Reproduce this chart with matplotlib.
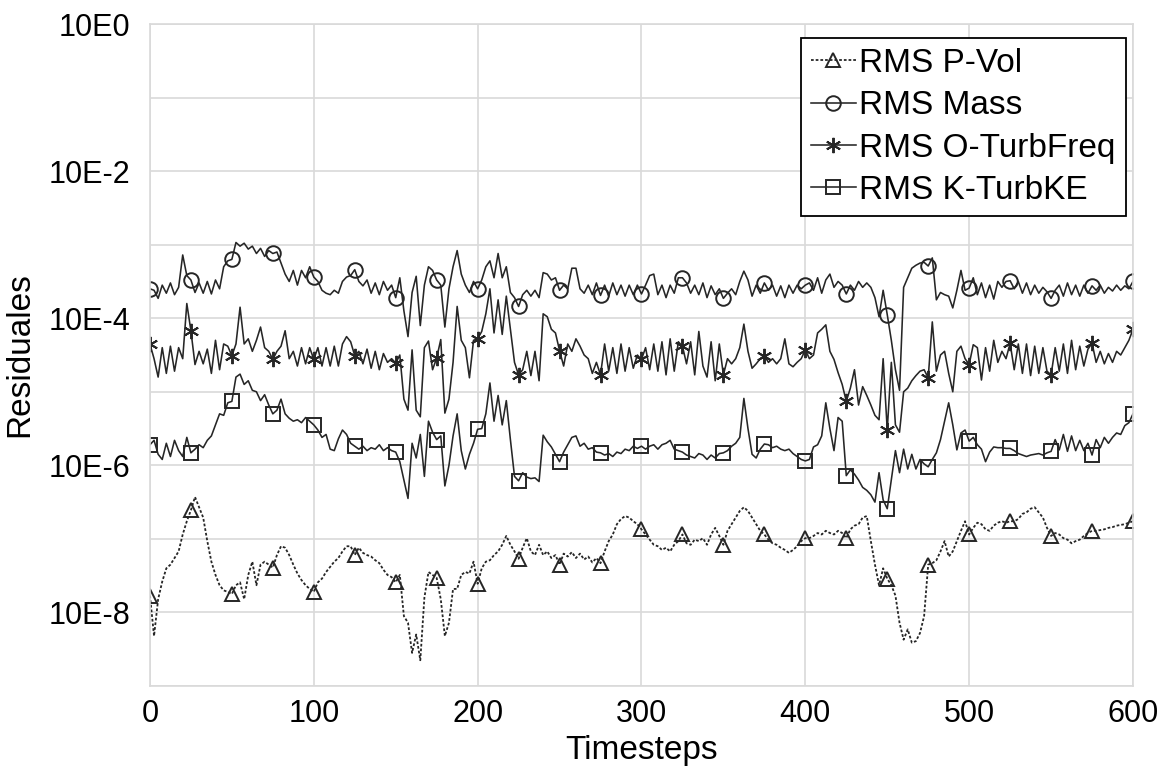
import numpy as np
import matplotlib
matplotlib.use("Agg")
import matplotlib.pyplot as plt

plt.rcParams['font.family'] = ['Liberation Sans', 'DejaVu Sans']

# timesteps sampled every 2.5 (markers every 25)
timesteps = np.arange(0, 600.001, 2.5)

# log10 of residuals, one row per 25 timesteps
log_mass = [
    -3.60, -3.62, -3.73, -3.55, -3.66, -3.52, -3.68, -3.58, -3.14, -3.42,
    -3.48, -3.65, -3.52, -3.66, -3.50, -3.67, -3.48, -3.60, -3.30, -3.22,
    -3.20, -2.97, -3.02, -2.98, -3.06, -3.02, -3.12, -3.05, -3.16, -3.08,
    -3.12, -3.10, -3.25, -3.40, -3.50, -3.35, -3.55, -3.35, -3.45, -3.30,
    -3.44, -3.50, -3.62, -3.66, -3.68, -3.62, -3.66, -3.50, -3.44, -3.42,
    -3.34, -3.50, -3.56, -3.48, -3.66, -3.52, -3.68, -3.50, -3.62, -3.55,
    -3.72, -3.45, -3.90, -4.25, -3.65, -3.43, -4.10, -3.55, -3.30, -3.35,
    -3.48, -3.55, -4.12, -3.60, -3.30, -3.08, -3.40, -3.55, -3.65, -3.50,
    -3.60, -3.48, -3.30, -3.22, -3.45, -3.12, -3.45, -3.30, -3.65, -3.72,
    -3.84, -3.68, -3.62, -3.70, -3.62, -3.72, -3.38, -3.40, -3.48, -3.45,
    -3.62, -3.55, -3.60, -3.32, -3.32, -3.60, -3.66, -3.55, -3.68, -3.52,
    -3.69, -3.55, -3.70, -3.52, -3.68, -3.55, -3.70, -3.55, -3.68, -3.55,
    -3.67, -3.55, -3.42, -3.40, -3.68, -3.55, -3.72, -3.55, -3.66, -3.45,
    -3.45, -3.52, -3.66, -3.55, -3.68, -3.52, -3.72, -3.56, -3.68, -3.60,
    -3.73, -3.66, -3.60, -3.68, -3.50, -3.36, -3.48, -3.70, -3.55, -3.66,
    -3.52, -3.62, -3.55, -3.70, -3.56, -3.72, -3.55, -3.66, -3.55, -3.60,
    -3.55, -3.52, -3.62, -3.45, -3.66, -3.48, -3.40, -3.58, -3.50, -3.55,
    -3.67, -3.55, -3.62, -3.50, -3.58, -3.52, -3.58, -3.72, -3.98, -3.62,
    -3.95, -4.30, -4.70, -4.98, -3.58, -3.45, -3.32, -3.28, -3.25, -3.24,
    -3.29, -3.18, -3.75, -3.65, -3.68, -3.70, -3.86, -3.62, -3.35, -3.62,
    -3.59, -3.45, -3.68, -3.52, -3.72, -3.55, -3.74, -3.50, -3.58, -3.50,
    -3.49, -3.60, -3.50, -3.66, -3.52, -3.68, -3.55, -3.66, -3.58, -3.64,
    -3.73, -3.62, -3.55, -3.70, -3.52, -3.68, -3.55, -3.70, -3.55, -3.66,
    -3.56, -3.62, -3.55, -3.66, -3.58, -3.63, -3.55, -3.62, -3.56, -3.60,
    -3.50,
]

log_oturb = [
    -4.35, -4.55, -4.80, -4.40, -4.75, -4.38, -4.72, -4.40, -4.55, -3.80,
    -4.17, -4.63, -4.45, -4.62, -4.42, -4.75, -4.30, -4.70, -4.35, -4.38,
    -4.51, -4.35, -3.85, -4.35, -4.28, -4.45, -4.30, -4.12, -4.40, -4.45,
    -4.56, -4.45, -4.38, -4.17, -4.55, -4.45, -4.65, -4.40, -4.62, -4.40,
    -4.56, -4.40, -4.65, -4.40, -4.65, -4.38, -4.65, -4.35, -4.25, -4.32,
    -4.51, -4.45, -4.62, -4.42, -4.68, -4.45, -4.70, -4.48, -4.60, -4.55,
    -4.61, -4.50, -5.10, -5.25, -4.43, -5.25, -5.34, -4.40, -4.31, -4.70,
    -4.54, -4.29, -5.29, -5.10, -4.60, -3.84, -4.30, -4.40, -4.81, -4.30,
    -4.28, -4.18, -3.94, -3.60, -4.20, -3.75, -4.22, -3.70, -4.15, -4.60,
    -4.77, -4.70, -4.45, -4.78, -4.45, -4.85, -3.94, -3.98, -4.15, -4.20,
    -4.44, -4.65, -4.35, -4.45, -4.28, -4.38, -4.50, -4.55, -4.75, -4.60,
    -4.77, -4.35, -4.72, -4.40, -4.75, -4.35, -4.72, -4.40, -4.68, -4.50,
    -4.56, -4.40, -4.70, -4.35, -4.72, -4.32, -4.77, -4.28, -4.72, -4.32,
    -4.38, -4.62, -4.32, -4.77, -4.18, -4.65, -4.80, -4.32, -4.85, -4.35,
    -4.77, -4.55, -4.62, -4.55, -4.40, -4.08, -4.45, -4.68, -4.62, -4.55,
    -4.51, -4.60, -4.55, -4.62, -4.55, -4.28, -4.62, -4.66, -4.60, -4.55,
    -4.43, -4.55, -4.50, -4.20, -4.15, -4.09, -4.45, -4.56, -4.74, -4.90,
    -5.13, -4.95, -4.70, -5.18, -4.93, -5.05, -5.18, -5.32, -5.38, -4.55,
    -5.52, -4.60, -5.45, -5.55, -5.00, -4.95, -4.85, -4.78, -4.72, -4.70,
    -4.81, -4.05, -4.72, -4.50, -4.45, -4.75, -5.00, -4.45, -4.38, -4.55,
    -4.63, -4.36, -4.40, -4.84, -4.40, -4.72, -4.30, -4.60, -4.45, -4.55,
    -4.34, -4.70, -4.35, -4.75, -4.35, -4.78, -4.38, -4.75, -4.40, -4.72,
    -4.77, -4.40, -4.72, -4.35, -4.75, -4.30, -4.70, -4.38, -4.65, -4.42,
    -4.34, -4.60, -4.45, -4.62, -4.48, -4.60, -4.45, -4.50, -4.40, -4.30,
    -4.15,
]

log_kturb = [
    -5.72, -5.66, -5.85, -5.92, -5.70, -5.88, -5.66, -5.80, -5.88, -5.62,
    -5.83, -5.78, -5.72, -5.76, -5.66, -5.60, -5.45, -5.30, -5.32, -5.15,
    -5.13, -4.80, -4.76, -4.90, -4.85, -4.98, -5.00, -5.12, -5.04, -5.18,
    -5.30, -5.25, -5.10, -5.30, -5.36, -5.40, -5.38, -5.42, -5.35, -5.40,
    -5.45, -5.52, -5.62, -5.58, -5.78, -5.80, -5.64, -5.52, -5.58, -5.70,
    -5.74, -5.78, -5.74, -5.80, -5.76, -5.78, -5.72, -5.80, -5.76, -5.80,
    -5.82, -5.95, -6.20, -6.45, -5.70, -5.90, -5.58, -6.15, -5.40, -5.55,
    -5.65, -5.60, -6.28, -6.00, -5.60, -5.30, -5.80, -6.05, -5.85, -5.70,
    -5.51, -5.50, -5.30, -4.88, -5.40, -5.05, -5.45, -5.12, -5.65, -6.15,
    -6.21, -6.10, -6.16, -6.18, -6.17, -6.22, -5.59, -5.68, -5.75, -5.85,
    -5.95, -5.82, -5.72, -5.62, -5.60, -5.74, -5.70, -5.78, -5.76, -5.82,
    -5.83, -5.86, -5.84, -5.88, -5.82, -5.84, -5.78, -5.80, -5.74, -5.77,
    -5.74, -5.78, -5.74, -5.72, -5.78, -5.72, -5.70, -5.66, -5.78, -5.80,
    -5.82, -5.86, -5.88, -5.90, -5.84, -5.86, -5.92, -5.86, -5.90, -5.84,
    -5.83, -5.80, -5.74, -5.70, -5.62, -5.09, -5.50, -5.85, -5.90, -5.78,
    -5.71, -5.72, -5.76, -5.74, -5.78, -5.80, -5.78, -5.84, -5.88, -5.92,
    -5.94, -5.92, -5.75, -5.72, -5.60, -5.15, -5.50, -5.80, -5.35, -5.40,
    -6.14, -6.06, -6.12, -6.20, -6.30, -6.34, -6.40, -6.50, -6.10, -6.47,
    -6.59, -6.20, -5.80, -6.10, -5.78, -6.05, -5.85, -6.05, -5.92, -5.98,
    -6.02, -5.92, -5.83, -5.65, -5.40, -5.15, -5.45, -5.79, -5.56, -5.52,
    -5.67, -5.62, -5.72, -5.78, -5.95, -5.82, -5.75, -5.76, -5.76, -5.77,
    -5.77, -5.80, -5.84, -5.86, -5.88, -5.86, -5.85, -5.84, -5.86, -5.83,
    -5.81, -5.65, -5.79, -5.58, -5.81, -5.60, -5.80, -5.66, -5.80, -5.70,
    -5.86, -5.65, -5.76, -5.62, -5.70, -5.62, -5.56, -5.58, -5.46, -5.42,
    -5.30,
]

log_pvol = [
    -7.77, -8.32, -7.82, -7.58, -7.40, -7.35, -7.26, -7.17, -6.94, -6.76,
    -6.61, -6.43, -6.57, -6.71, -7.03, -7.31, -7.49, -7.63, -7.70, -7.72,
    -7.75, -7.63, -7.59, -7.82, -7.49, -7.31, -7.63, -7.35, -7.31, -7.35,
    -7.39, -7.22, -7.10, -7.12, -7.22, -7.35, -7.47, -7.56, -7.63, -7.68,
    -7.72, -7.59, -7.54, -7.45, -7.38, -7.31, -7.26, -7.17, -7.10, -7.10,
    -7.22, -7.12, -7.19, -7.22, -7.24, -7.29, -7.33, -7.42, -7.49, -7.52,
    -7.59, -7.49, -8.05, -8.14, -8.55, -8.30, -8.65, -7.80, -7.45, -7.49,
    -7.53, -7.82, -8.32, -8.14, -7.68, -7.68, -7.49, -7.45, -7.47, -7.31,
    -7.61, -7.40, -7.31, -7.29, -7.22, -7.17, -7.08, -6.96, -7.08, -7.17,
    -7.27, -7.12, -6.99, -7.17, -7.22, -7.08, -7.22, -7.17, -7.26, -7.22,
    -7.35, -7.20, -7.24, -7.18, -7.26, -7.20, -7.28, -7.24, -7.32, -7.26,
    -7.33, -7.17, -7.03, -6.94, -6.80, -6.73, -6.69, -6.71, -6.76, -6.80,
    -6.87, -6.94, -7.01, -7.08, -7.10, -7.15, -7.12, -7.17, -7.08, -7.03,
    -6.94, -7.06, -7.08, -7.01, -7.03, -6.99, -7.08, -6.94, -6.85, -6.96,
    -7.08, -6.89, -6.80, -6.71, -6.62, -6.57, -6.62, -6.71, -6.80, -6.89,
    -6.94, -7.01, -7.06, -7.08, -7.12, -7.15, -7.19, -7.15, -7.10, -7.03,
    -6.99, -6.99, -6.96, -6.92, -6.94, -6.89, -6.92, -6.94, -6.89, -6.92,
    -6.99, -6.87, -6.82, -6.80, -6.71, -6.69, -7.03, -7.35, -7.63, -7.40,
    -7.54, -7.63, -7.77, -8.14, -8.37, -8.23, -8.41, -8.39, -8.28, -8.05,
    -7.35, -7.33, -7.29, -7.17, -7.03, -7.24, -7.17, -7.03, -6.89, -6.76,
    -6.94, -6.85, -6.78, -6.80, -6.87, -6.89, -6.82, -6.78, -6.76, -6.78,
    -6.76, -6.76, -6.73, -6.66, -6.64, -6.59, -6.57, -6.64, -6.71, -6.85,
    -6.96, -6.92, -6.94, -6.99, -7.01, -7.06, -7.03, -7.01, -6.96, -6.92,
    -6.89, -6.89, -6.88, -6.87, -6.85, -6.84, -6.82, -6.81, -6.80, -6.78,
    -6.76,
]

series_labels = ["RMS P-Vol", "RMS Mass", "RMS O-TurbFreq", "RMS K-TurbKE"]
ytick_values = [1e0, 1e-2, 1e-4, 1e-6, 1e-8]
ytick_labels = ["10E0", "10E-2", "10E-4", "10E-6", "10E-8"]
xtick_values = [0, 100, 200, 300, 400, 500, 600]

fig = plt.figure(figsize=(11.66, 7.67), dpi=100)
ax = fig.add_axes([0.1286, 0.1056, 0.8431, 0.8631])

lc = "#262626"
common = dict(color=lc, markevery=10, markerfacecolor="none",
              markeredgecolor=lc, markeredgewidth=1.4)

ax.plot(timesteps, 10 ** np.array(log_pvol), linestyle=(0, (1.5, 1.1)), lw=1.3,
        marker="^", markersize=9.5, label=series_labels[0], **common)
ax.plot(timesteps, 10 ** np.array(log_mass), linestyle="-", lw=1.15,
        marker="o", markersize=10.5, label=series_labels[1], **common)
ax.plot(timesteps, 10 ** np.array(log_oturb), linestyle="-", lw=1.15,
        marker=(6, 2, 0), markersize=11, label=series_labels[2], **common)
ax.plot(timesteps, 10 ** np.array(log_kturb), linestyle="-", lw=1.15,
        marker="s", markersize=9.5, label=series_labels[3], **common)

ax.set_yscale("log")
ax.set_ylim(1e-9, 1e0)
ax.set_xlim(0, 600)
ax.set_yticks(ytick_values)
ax.set_yticklabels(ytick_labels)
ax.set_yticks([10.0 ** -k for k in (1, 3, 5, 7, 9)], minor=True)
ax.yaxis.set_minor_formatter(matplotlib.ticker.NullFormatter())
ax.set_xticks(xtick_values)
ax.set_xticklabels([str(v) for v in xtick_values])

gc = "#d9d9d9"
ax.grid(True, which="both", axis="y", color=gc, lw=1.2)
ax.grid(True, which="major", axis="x", color=gc, lw=1.2)
ax.set_axisbelow(True)
for s in ax.spines.values():
    s.set_color(gc)
    s.set_linewidth(1.2)
ax.tick_params(which="both", length=0, labelsize=22, colors="black")
ax.tick_params(axis="y", pad=14)
ax.tick_params(axis="x", pad=9)

ax.set_xlabel("Timesteps", fontsize=24, labelpad=5)
ax.set_ylabel("Residuales", fontsize=24, labelpad=10)

leg = ax.legend(loc="upper right", bbox_to_anchor=(0.9925, 0.979), fontsize=24,
                frameon=True, fancybox=False, edgecolor="black", framealpha=1,
                handlelength=1.35, handletextpad=0.1, borderpad=0.3,
                labelspacing=0.34, borderaxespad=0)
leg.get_frame().set_linewidth(1.3)

fig.savefig("out.png", dpi=100)
